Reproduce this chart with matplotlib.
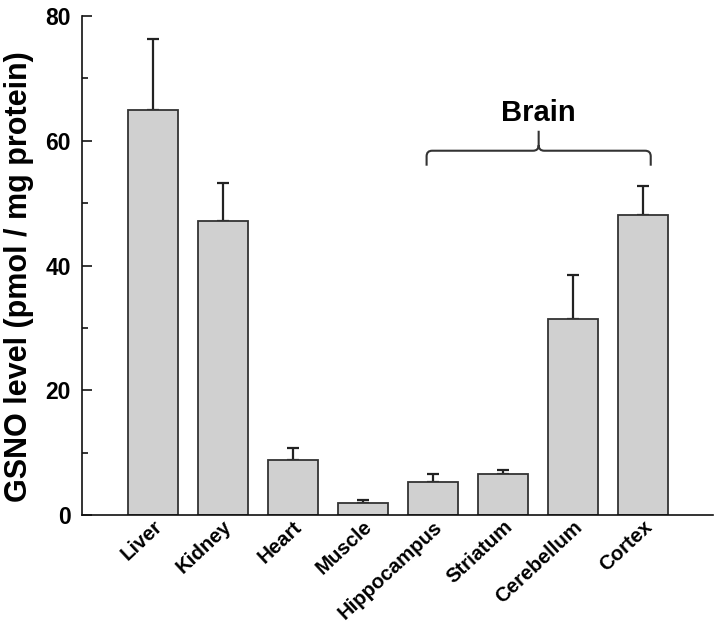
import matplotlib
matplotlib.use("Agg")
import matplotlib.pyplot as plt
from matplotlib.path import Path
from matplotlib.patches import PathPatch
import numpy as np

plt.rcParams['font.family'] = ['Liberation Sans', 'DejaVu Sans']
plt.rcParams['font.weight'] = 'bold'

categories = ["Liver", "Kidney", "Heart", "Muscle", "Hippocampus", "Striatum", "Cerebellum", "Cortex"]
values = [64.9, 47.2, 8.8, 1.9, 5.3, 6.6, 31.5, 48.1]
errors = [11.4, 6.1, 1.9, 0.45, 1.2, 0.6, 6.9, 4.7]
yticks = [0, 20, 40, 60, 80]
group_label = "Brain"
group_start, group_end = 4, 7

fig = plt.figure(figsize=(7.21, 6.29), dpi=100)
ax = fig.add_axes([0.1137, 0.1812, 0.8753, 0.7934])

x = np.arange(len(categories))
ax.bar(x, values, width=0.714, color='#d0d0d0', edgecolor='#333333', linewidth=1.3, zorder=2)
ax.errorbar(x, values, yerr=[np.zeros(len(errors)), errors], fmt='none', ecolor='#222222',
            elinewidth=1.6, capsize=4.5, capthick=1.6, zorder=1)

ax.set_xlim(-1.01, 8.0)
ax.set_ylim(0, 80)
ax.set_yticks(yticks)
ax.set_yticks([10, 30, 50, 70], minor=True)
ax.set_yticklabels([str(t) for t in yticks], fontsize=16.5, fontweight='bold')
ax.set_xticks(x)
ax.set_xticklabels(categories, rotation=43, ha='right', va='top', rotation_mode='anchor',
                   fontsize=14.7, fontweight='bold')
ax.tick_params(axis='y', which='major', direction='in', length=7.2, width=1.1, pad=8)
ax.tick_params(axis='y', which='minor', direction='in', length=4.3, width=1.1)
ax.tick_params(axis='x', length=0, pad=1.5)
for s in ['top', 'right']:
    ax.spines[s].set_visible(False)
for s in ['left', 'bottom']:
    ax.spines[s].set_linewidth(1.2)
    ax.spines[s].set_color('#111111')
ax.set_ylabel("GSNO level (pmol / mg protein)", fontsize=22, fontweight='bold')
ax.yaxis.set_label_coords(-0.076, 0.477)

# brace over brain regions
x0 = group_start - 0.09
x1 = group_end + 0.11
xm = (x0 + x1) / 2
yh = 58.4
ye = 56.0
yt = 61.6
rx = 0.08
ry = 0.9
verts = [
    (x0, ye), (x0, yh - ry), (x0, yh), (x0 + rx, yh),
    (xm - rx, yh), (xm, yh), (xm, yh + ry), (xm, yt),
    (xm, yh + ry), (xm, yh), (xm + rx, yh),
    (x1 - rx, yh), (x1, yh), (x1, yh - ry), (x1, ye),
]
codes = [Path.MOVETO, Path.LINETO, Path.CURVE3, Path.CURVE3,
         Path.LINETO, Path.CURVE3, Path.CURVE3, Path.LINETO,
         Path.MOVETO, Path.CURVE3, Path.CURVE3,
         Path.LINETO, Path.CURVE3, Path.CURVE3, Path.LINETO]
ax.add_patch(PathPatch(Path(verts, codes), fill=False, edgecolor='#333333', linewidth=1.5, clip_on=False))
ax.text(xm, 64.4, group_label, ha='center', va='center', fontsize=21, fontweight='bold')

fig.savefig("out.png", dpi=100)
